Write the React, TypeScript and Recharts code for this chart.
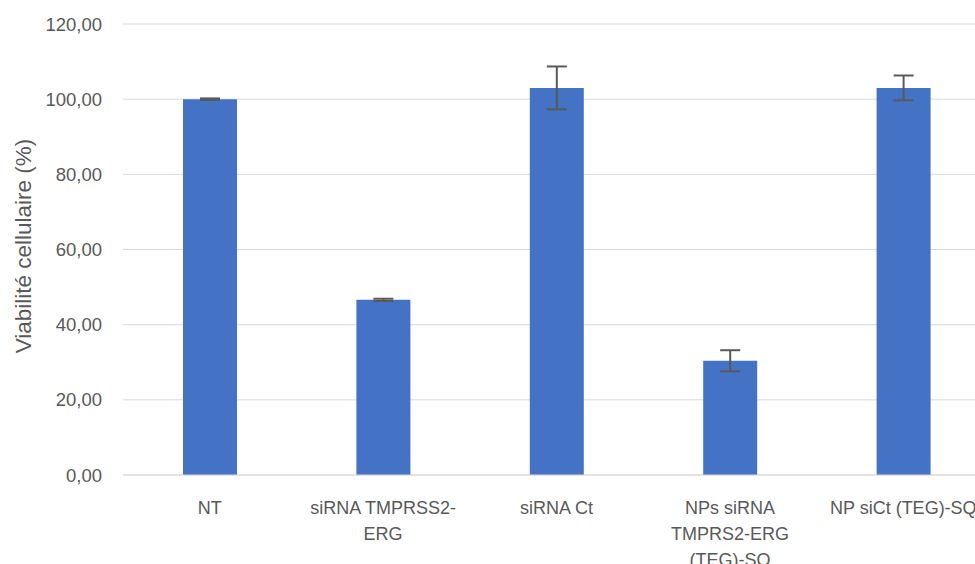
import { BarChart, Bar, XAxis, YAxis, CartesianGrid, ErrorBar } from 'recharts';

const categories = ["NT", "siRNA TMPRSS2-ERG", "siRNA Ct", "NPs siRNA TMPRS2-ERG (TEG)-SQ", "NP siCt (TEG)-SQ"];
const tickLines = [
  ["NT"],
  ["siRNA TMPRSS2-", "ERG"],
  ["siRNA Ct"],
  ["NPs siRNA", "TMPRS2-ERG", "(TEG)-SQ"],
  ["NP siCt (TEG)-SQ"],
];
const viability = [100.0, 46.6, 103.0, 30.4, 103.0];
const errors = [0.2, 0.3, 5.7, 2.8, 3.3];
const yTicks = [0, 20, 40, 60, 80, 100, 120];

const data = categories.map((name, i) => ({ name, value: viability[i], err: errors[i] }));

const FONT = '"Liberation Sans", Arial, sans-serif';
const TEXT = '#595959';

const CategoryTick = (props: any) => {
  const { x, y, index } = props;
  const lines = tickLines[index] || [];
  return (
    <g>
      {lines.map((line, i) => (
        <text
          key={i}
          x={x}
          y={y + 25 + i * 26}
          textAnchor="middle"
          dominantBaseline="central"
          fill={TEXT}
          fontSize={18}
          fontFamily={FONT}
        >
          {line}
        </text>
      ))}
    </g>
  );
};

const App = () => {
  return (
    <div style={{ position: 'fixed', left: 0, top: 0, width: 975, height: 564, overflow: 'hidden', background: '#fff' }}>
      <BarChart
        width={1000}
        height={564}
        data={data}
        margin={{ top: 24, right: 10, bottom: 0, left: 0 }}
        barSize={54}
      >
        <CartesianGrid stroke="#d9d9d9" vertical={false} />
        <XAxis
          dataKey="name"
          axisLine={{ stroke: '#d9d9d9' }}
          tickLine={false}
          interval={0}
          tick={<CategoryTick />}
          height={89}
        />
        <YAxis
          width={123}
          domain={[0, 120]}
          ticks={yTicks}
          axisLine={false}
          tickLine={false}
          tickSize={0}
          tickMargin={21}
          tickFormatter={(v: number) => v.toFixed(2).replace('.', ',')}
          tick={{ fill: TEXT, fontSize: 18.5, fontFamily: FONT }}
          label={{
            content: () => (
              <text
                x={23}
                y={246}
                transform="rotate(-90 23 246)"
                textAnchor="middle"
                dominantBaseline="central"
                fill={TEXT}
                fontSize={22.5}
                fontFamily={FONT}
              >
                Viabilité cellulaire (%)
              </text>
            ),
          }}
        />
        <Bar dataKey="value" fill="#4472C4" isAnimationActive={false}>
          <ErrorBar dataKey="err" width={10} stroke="#595959" strokeWidth={2} />
        </Bar>
      </BarChart>
    </div>
  );
};

export default App;
